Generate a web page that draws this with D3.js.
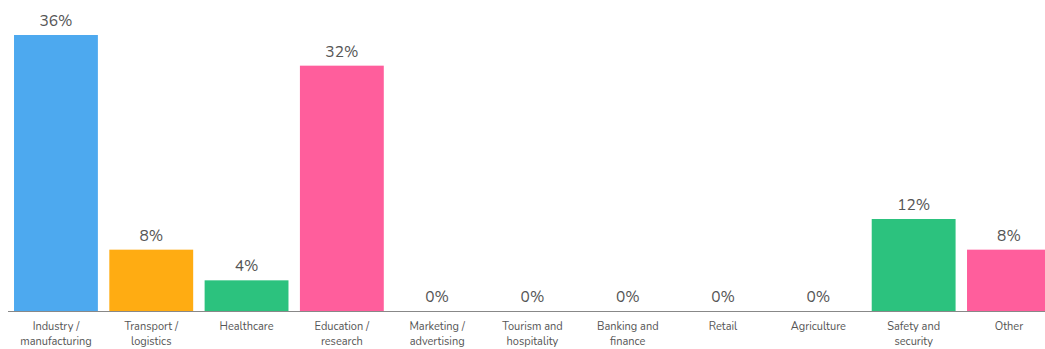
<!DOCTYPE html>
<html><head><meta charset="utf-8">
<script src="https://cdn.jsdelivr.net/npm/d3@7"></script>
<style>body{margin:0;background:#fff}svg{display:block}</style>
</head><body><svg id="c" width="1045" height="349"></svg>
<script>
const categories = ["Industry / manufacturing","Transport / logistics","Healthcare","Education / research","Marketing / advertising","Tourism and hospitality","Banking and finance","Retail","Agriculture","Safety and security","Other"];
const labelLines = [["Industry /","manufacturing"],["Transport /","logistics"],["Healthcare"],["Education /","research"],["Marketing /","advertising"],["Tourism and","hospitality"],["Banking and","finance"],["Retail"],["Agriculture"],["Safety and","security"],["Other"]];
const values = [36, 8, 4, 32, 0, 0, 0, 0, 0, 12, 8];
const colors = ["#4DA9EF","#FFAC12","#2CC27E","#FF5E9C","#4DA9EF","#FFAC12","#2CC27E","#FF5E9C","#4DA9EF","#2CC27E","#FF5E9C"];

const svg = d3.select("#c");
const x = d3.scaleBand().domain(categories).range([8.3, 1056.6]).paddingInner(0.12).paddingOuter(0.06);
const y = d3.scaleLinear().domain([0, 36]).range([311, 35]);
const font = "Nunito, Lato, 'Open Sans', sans-serif";

svg.selectAll("rect.bar").data(values).join("rect").attr("class","bar")
  .attr("x",(d,i)=>x(categories[i])).attr("width",x.bandwidth())
  .attr("y",d=>y(d)).attr("height",d=>y(0)-y(d))
  .attr("fill",(d,i)=>colors[i]);

svg.append("line").attr("x1",8).attr("x2",1045).attr("y1",y(0)+0.5).attr("y2",y(0)+0.5)
  .attr("stroke","#888").attr("stroke-width",1.2);

svg.selectAll("text.val").data(values).join("text").attr("class","val")
  .attr("x",(d,i)=>x(categories[i])+x.bandwidth()/2).attr("y",d=>y(d)-9)
  .attr("text-anchor","middle").attr("font-family",font).attr("font-size",15.5)
  .attr("fill","#555").text(d=>d+"%");

const g = svg.selectAll("text.cat").data(labelLines).join("text").attr("class","cat")
  .attr("text-anchor","middle").attr("font-family",font).attr("font-size",11)
  .attr("fill","#555");
g.selectAll("tspan").data((d,i)=>d.map(l=>({l,i}))).join("tspan")
  .attr("x",d=>x(categories[d.i])+x.bandwidth()/2)
  .attr("y",(d,j)=>330+j*15).text(d=>d.l);
</script></body></html>
